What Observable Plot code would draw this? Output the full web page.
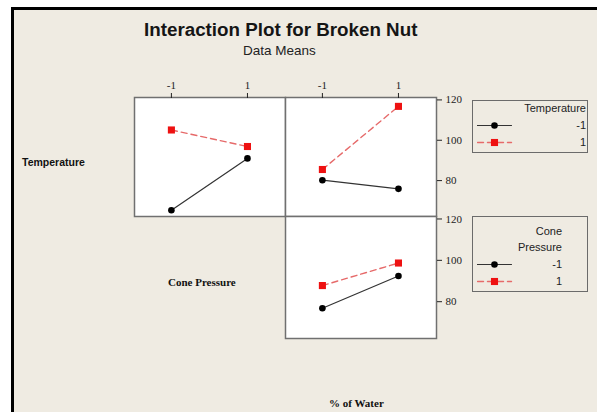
<!DOCTYPE html>
<html>
<head>
<meta charset="utf-8">
<script src="https://cdn.jsdelivr.net/npm/d3@7"></script>
<script src="https://cdn.jsdelivr.net/npm/@observablehq/plot@0.6"></script>
<style>
  html, body { margin: 0; padding: 0; background: #ffffff; }
  #root { position: relative; width: 597px; height: 412px; overflow: hidden; background: #ffffff; }
  #bg { position: absolute; left: 11px; top: 7px; width: 600px; height: 420px; background: #efebe2;
        border-left: 3px solid #000; border-top: 3px solid #000; box-sizing: border-box; }
  .abs { position: absolute; white-space: nowrap; }
  .title { font-family: "Liberation Sans", Arial, sans-serif; font-weight: bold; font-size: 18.8px; color: #151515; }
  .sub { font-family: "Liberation Sans", Arial, sans-serif; font-size: 13.5px; color: #222; }
  .lab { font-family: "Liberation Serif", serif; font-weight: bold; font-size: 11px; color: #111; }
  .legend { position: absolute; border: 1.5px solid #6b6b6b; box-sizing: border-box; background: #efebe2; }
  .ltxt { font-family: "Liberation Sans", Arial, sans-serif; font-size: 11px; color: #222; text-align: right; }
  .plot { position: absolute; }
</style>
</head>
<body>
<div id="root">
  <div id="bg"></div>
</div>
<script>
// ---- data ----
const levels = [-1, 1];
// Temperature traces vs Cone Pressure
const tempByCone_lo = [65.3, 91.0];
const tempByCone_hi = [105.1, 96.9];
// Temperature traces vs % of Water
const tempByWater_lo = [80.2, 75.9];
const tempByWater_hi = [85.5, 116.8];
// Cone Pressure traces vs % of Water
const coneByWater_lo = [76.8, 92.4];
const coneByWater_hi = [87.8, 98.7];
const yTicks = [80, 100, 120];
const xTicks = [-1, 1];
const legendLabels = ["-1", "1"];

const BLACK = "#000000", RED = "#ee1111", REDLINE = "#e66a6a";

function rows(lo, hi) {
  const out = [];
  levels.forEach((x, i) => out.push({x, y: lo[i], g: "-1"}));
  levels.forEach((x, i) => out.push({x, y: hi[i], g: "1"}));
  return out;
}

const root = document.getElementById("root");
function place(el, left, top) {
  el.classList.add("plot");
  el.style.left = left + "px"; el.style.top = top + "px";
  root.appendChild(el);
}

function panel({lo, hi, h, topAxis, rightAxis}) {
  const data = rows(lo, hi);
  const mt = topAxis ? 31 : 3, mr = rightAxis ? 30 : 3, ml = 3, mb = 3;
  const marks = [
    Plot.frame({fill: "white"}),
    Plot.line(data.filter(d => d.g === "-1"), {x: "x", y: "y", stroke: "#333", strokeWidth: 1.2}),
    Plot.line(data.filter(d => d.g === "1"), {x: "x", y: "y", stroke: REDLINE, strokeWidth: 1.4, strokeDasharray: "6,4"}),
    Plot.dot(data.filter(d => d.g === "-1"), {x: "x", y: "y", r: 3.3, fill: BLACK, symbol: "circle"}),
    Plot.dot(data.filter(d => d.g === "1"), {x: "x", y: "y", r: 4, fill: RED, symbol: "square"}),
    Plot.frame({stroke: "#707070", strokeWidth: 1.5})
  ];
  if (topAxis) marks.push(Plot.axisX({anchor: "top", ticks: xTicks, tickSize: 5, tickPadding: 4, fontSize: 11, label: null, tickFormat: d => String(d)}));
  else marks.push(Plot.axisX({anchor: "top", ticks: [], label: null}));
  if (rightAxis) marks.push(Plot.axisY({anchor: "right", ticks: yTicks, tickSize: 5, tickPadding: 4, fontSize: 11, label: null}));
  else marks.push(Plot.axisY({ticks: [], label: null}));
  return {
    plot: Plot.plot({
      width: 151 + ml + mr, height: h + mt + mb,
      marginLeft: ml, marginRight: mr, marginTop: mt, marginBottom: mb,
      style: {background: "transparent", fontFamily: "'Liberation Serif', serif", fontSize: "11px", color: "#222"},
      x: {domain: [-1.97, 2.0]},
      y: {domain: [62.2, 121.2]},
      marks
    }),
    ml, mt
  };
}

// Top-left: Temperature vs Cone Pressure
let p = panel({lo: tempByCone_lo, hi: tempByCone_hi, h: 119, topAxis: true, rightAxis: false});
place(p.plot, 134 - p.ml, 97 - p.mt);
// Top-right: Temperature vs % of Water
p = panel({lo: tempByWater_lo, hi: tempByWater_hi, h: 119, topAxis: true, rightAxis: true});
place(p.plot, 285 - p.ml, 97 - p.mt);
// Bottom-right: Cone Pressure vs % of Water
p = panel({lo: coneByWater_lo, hi: coneByWater_hi, h: 122, topAxis: false, rightAxis: true});
place(p.plot, 285 - p.ml, 216 - p.mt);

// ---- text ----
function text(cls, str, left, top, extra) {
  const d = document.createElement("div");
  d.className = "abs " + cls; d.textContent = str;
  d.style.left = left + "px"; d.style.top = top + "px";
  if (extra) Object.assign(d.style, extra);
  root.appendChild(d);
  return d;
}
function rtext(str, right, cy) {
  const d = document.createElement("div");
  d.className = "abs ltxt"; d.textContent = str;
  d.style.right = (597 - right) + "px"; d.style.top = (cy - 7) + "px";
  d.style.lineHeight = "14px";
  root.appendChild(d);
  return d;
}
text("title", "Interaction Plot for Broken Nut", 144, 19);
text("sub", "Data Means", 243, 43);
text("lab", "Temperature", 22, 156, {fontFamily: "'Liberation Sans', Arial, sans-serif", fontSize: "10.5px"});
text("lab", "Cone Pressure", 168, 276);
text("lab", "% of Water", 329, 397);

// ---- legends ----
function legend(left, top, w, h, titleLines, textRight, rowYs) {
  const box = document.createElement("div");
  box.className = "legend";
  Object.assign(box.style, {left: left + "px", top: top + "px", width: w + "px", height: h + "px"});
  root.appendChild(box);
  titleLines.forEach(([s, y]) => rtext(s, textRight, y));
  const sw = Plot.plot({
    width: 40, height: h, margin: 0,
    style: {background: "transparent"},
    x: {domain: [0, 40], axis: null}, y: {domain: [h, 0], axis: null},
    marks: [
      Plot.line([0, 34].map(x => ({x, y: rowYs[0] - top})), {x: "x", y: "y", stroke: "#333", strokeWidth: 1.2}),
      Plot.line([0, 34].map(x => ({x, y: rowYs[1] - top})), {x: "x", y: "y", stroke: REDLINE, strokeWidth: 1.4, strokeDasharray: "6,4"}),
      Plot.dot([{x: 17, y: rowYs[0] - top}], {x: "x", y: "y", r: 3.3, fill: BLACK}),
      Plot.dot([{x: 17, y: rowYs[1] - top}], {x: "x", y: "y", r: 4, fill: RED, symbol: "square"})
    ]
  });
  sw.style.position = "absolute"; sw.style.left = "4px"; sw.style.top = "-1.5px";
  box.appendChild(sw);
  legendLabels.forEach((s, i) => rtext(s, textRight, rowYs[i]));
}
legend(472, 100, 116, 53, [["Temperature", 108]], 586, [125, 142]);
legend(472, 216, 116, 76, [["Cone", 231], ["Pressure", 247]], 562, [264, 281]);
</script>
</body>
</html>
